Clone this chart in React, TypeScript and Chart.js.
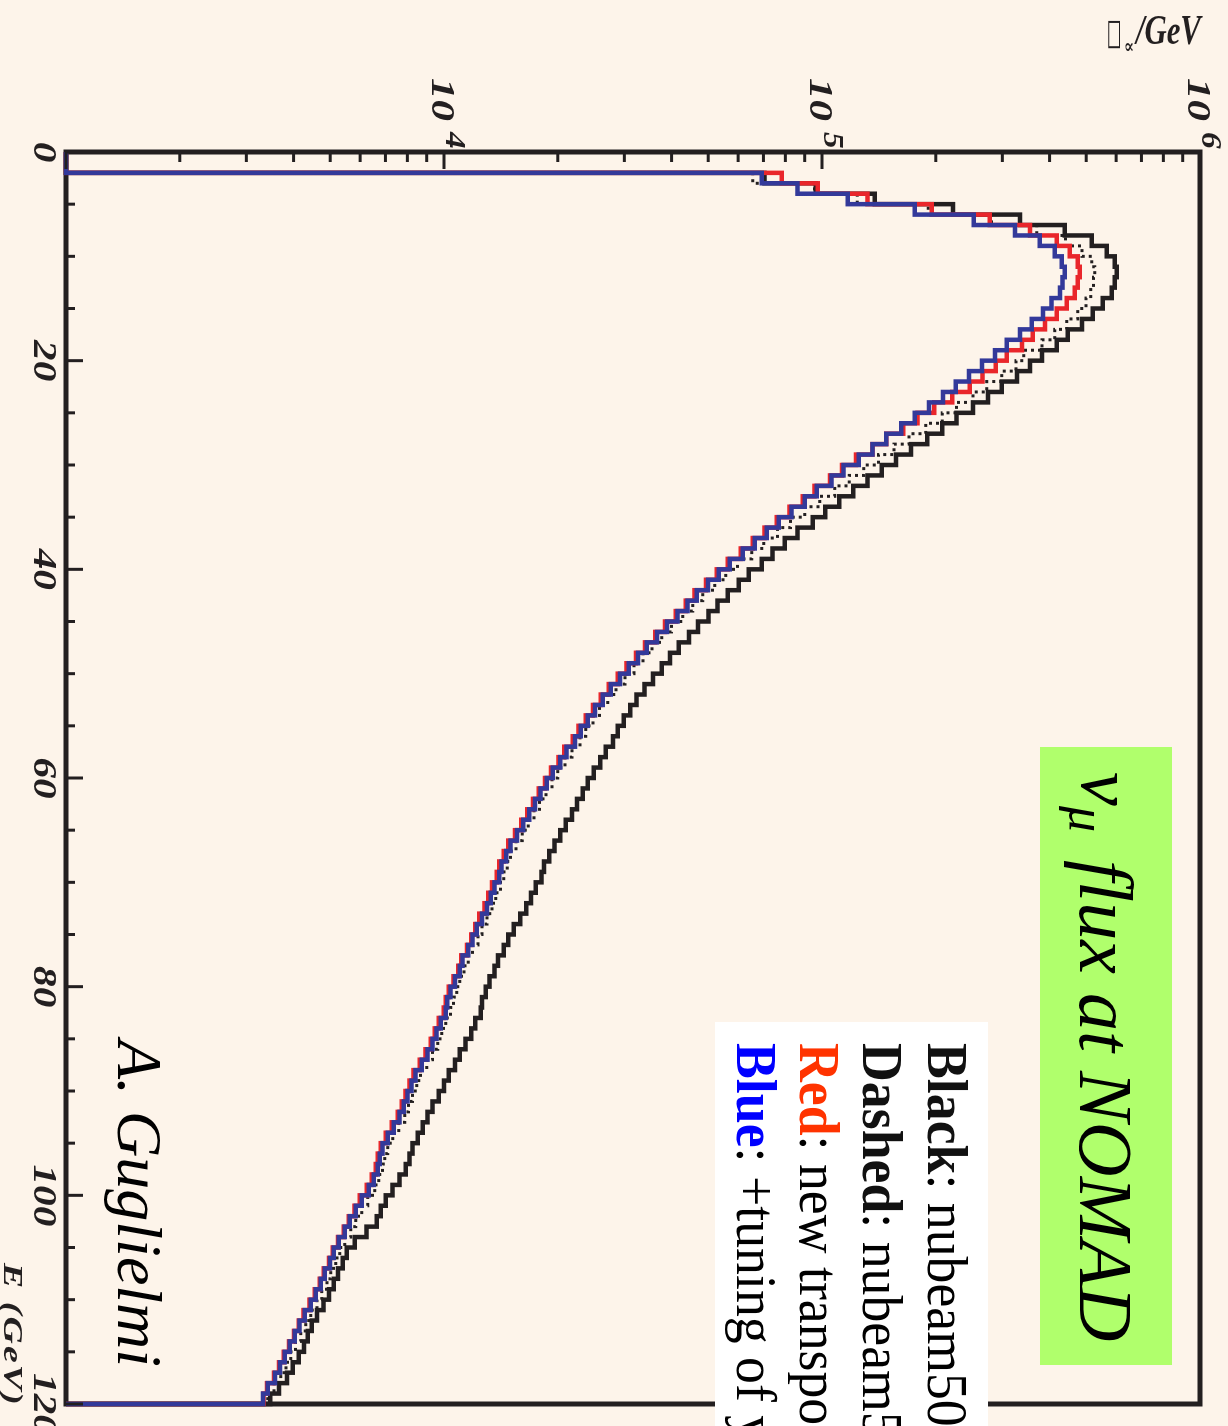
import React, { useEffect, useRef } from "react";
import { Chart, registerables } from "chart.js";
Chart.register(...registerables);

// ---- data (bins of 1 GeV, lower edges 0..119) ----
const BIN_LOW_EDGES_GEV = Array.from({ length: 120 }, (_, i) => i);
const E_MAX = 120;
const Y_MIN = 1000;
const Y_MAX = 1000000;

const blueFlux = [
  0, 0, 69300, 86200, 117000, 176000, 252000, 324000, 377000, 413000,
  431000, 439000, 433000, 426000, 405000, 384000, 359000, 334000, 308000, 287000,
  265000, 245000, 226000, 209000, 192000, 176000, 162000, 148000, 136000, 125000,
  114000, 106000, 96800, 90000, 83100, 76800, 71400, 66400, 61700, 57000,
  53300, 49900, 46600, 44100, 41500, 38900, 36600, 34400, 32600, 30800,
  29200, 27600, 26300, 25100, 24000, 23000, 22200, 21100, 20300, 19400,
  18700, 18000, 17400, 16800, 16200, 15600, 15000, 14600, 14200, 14000,
  13600, 13300, 13000, 12600, 12200, 11900, 11600, 11200, 11000, 10700,
  10400, 10200, 10100, 9800, 9560, 9330, 9050, 8730, 8410, 8210,
  8010, 7820, 7630, 7360, 7100, 6880, 6760, 6680, 6520, 6320,
  6060, 5840, 5630, 5460, 5270, 5110, 4990, 4840, 4720, 4580,
  4440, 4280, 4150, 4030, 3910, 3790, 3680, 3570, 3420, 3320,
];

const redFlux = [
  0, 0, 78200, 97400, 132000, 195000, 278000, 355000, 418000, 452000,
  475000, 481000, 475000, 466000, 444000, 418000, 389000, 361000, 338000, 308000,
  288000, 266000, 246000, 221000, 198000, 179000, 164000, 148000, 136000, 123000,
  113000, 105000, 95600, 88900, 82100, 75900, 70500, 65600, 61000, 56300,
  52700, 49300, 46000, 43600, 41000, 38400, 36200, 34000, 32200, 30400,
  28800, 27300, 26000, 24800, 23700, 22700, 21900, 20800, 20100, 19200,
  18500, 17800, 17200, 16600, 16000, 15400, 14800, 14400, 14000, 13800,
  13400, 13100, 12800, 12400, 12100, 11800, 11500, 11100, 10900, 10600,
  10300, 10100, 9980, 9680, 9450, 9220, 8940, 8630, 8310, 8110,
  7910, 7730, 7540, 7270, 7010, 6800, 6680, 6600, 6440, 6250,
  5990, 5800, 5600, 5430, 5240, 5080, 4960, 4810, 4690, 4550,
  4410, 4250, 4130, 4010, 3890, 3770, 3660, 3550, 3400, 3330,
];

const dashedFlux = [
  0, 0, 65600, 95600, 124000, 191000, 281000, 370000, 441000, 487000,
  517000, 527000, 523000, 514000, 499000, 475000, 444000, 413000, 382000, 342000,
  326000, 299000, 273000, 251000, 227000, 208000, 188000, 170000, 155000, 141000,
  129000, 118000, 108000, 98600, 90000, 82600, 76300, 70100, 65200, 59800,
  55600, 52000, 48400, 45500, 42800, 40000, 37700, 35500, 33600, 31800,
  30100, 28500, 27100, 25800, 24800, 23700, 22900, 21800, 20900, 20000,
  19300, 18600, 17900, 17300, 16700, 16100, 15500, 15000, 14700, 14400,
  14100, 13700, 13400, 13000, 12600, 12300, 11900, 11600, 11300, 11000,
  10800, 10600, 10400, 10100, 9860, 9620, 9330, 9000, 8670, 8470,
  8260, 8060, 7870, 7590, 7320, 7100, 6970, 6880, 6720, 6560,
  6280, 6060, 5840, 5670, 5460, 5300, 5170, 5020, 4900, 4750,
  4610, 4440, 4310, 4180, 4050, 3930, 3820, 3700, 3550, 3420,
];

const blackFlux = [
  0, 0, 70500, 96200, 138000, 222000, 334000, 439000, 517000, 567000,
  595000, 602000, 595000, 584000, 553000, 520000, 487000, 447000, 418000, 382000,
  355000, 328000, 299000, 275000, 251000, 227000, 208000, 190000, 172000, 157000,
  144000, 132000, 121000, 111000, 102000, 94500, 86200, 79700, 74000, 69300,
  64000, 60200, 56300, 52900, 50100, 47000, 44500, 41800, 39600, 37700,
  35700, 33900, 32300, 31100, 29900, 28800, 28000, 26800, 25900, 24900,
  24000, 23300, 22500, 21800, 21000, 20300, 19600, 19000, 18400, 18100,
  17500, 17000, 16500, 15900, 15300, 14800, 14400, 13900, 13600, 13200,
  12900, 12600, 12500, 12100, 11800, 11400, 11000, 10700, 10300, 10000,
  9680, 9330, 9050, 8780, 8520, 8260, 8110, 7920, 7630, 7310,
  7010, 6800, 6640, 6240, 5810, 5530, 5400, 5240, 5110, 4960,
  4800, 4610, 4470, 4360, 4260, 4130, 3980, 3840, 3660, 3470,
];

const xMajorTicks = [0, 20, 40, 60, 80, 100, 120];
const xTickLabels = ["0", "20", "40", "60", "80", "100", "120"];
const xMinorStep = 5;
const yDecades = [1000, 10000, 100000, 1000000];
const yLabelDecades = [10000, 100000, 1000000];
const yLabelExponents = ["4", "5", "6"];
const yMinorMantissas = [2, 3, 4, 5, 6, 7, 8, 9];

const legendRows = [
  { key: "Black", color: "#111111", rest: ": nubeam500" },
  { key: "Dashed", color: "#111111", rest: ": nubeam500" },
  { key: "Red", color: "#ff3300", rest: ": new transport" },
  { key: "Blue", color: "#0000ff", rest: ": +tuning of yields" },
];

// ---- styles ----
const BG = "#fdf4ea";
const INK = "#231f20";
const RED = "#e9262b";
const BLUE = "#33399a";
const GREEN = "#b0ff6c";
const SERIF = '"Liberation Serif", "DejaVu Serif", serif';

function toPoints(values: number[]) {
  const pts = values.map((v, i) => ({ x: BIN_LOW_EDGES_GEV[i], y: v > 0 ? v : Y_MIN }));
  pts.push({ x: E_MAX, y: values[values.length - 1] });
  pts.push({ x: E_MAX, y: Y_MIN });
  return pts;
}

function drawText(
  ctx: CanvasRenderingContext2D,
  s: string,
  x: number,
  y: number,
  font: string,
  color: string,
  sx = 1,
  align: "left" | "center" | "right" = "left",
  spacing = 0
) {
  ctx.save();
  ctx.font = font;
  ctx.fillStyle = color;
  ctx.textBaseline = "alphabetic";
  ctx.textAlign = "left";
  (ctx as any).letterSpacing = spacing + "px";
  const w = ctx.measureText(s).width;
  ctx.translate(x, y);
  ctx.scale(sx, 1);
  const dx = align === "center" ? -w / 2 : align === "right" ? -w : 0;
  ctx.fillText(s, dx, 0);
  ctx.restore();
  return w * sx;
}

const decorPlugin = {
  id: "decor",
  beforeDraw(chart: any) {
    const ctx = chart.ctx as CanvasRenderingContext2D;
    ctx.save();
    ctx.fillStyle = BG;
    ctx.fillRect(0, 0, chart.width, chart.height);
    ctx.restore();
  },
  beforeDatasetsDraw(chart: any) {
    const ctx = chart.ctx as CanvasRenderingContext2D;
    const a = chart.chartArea;
    ctx.save();
    ctx.strokeStyle = INK;
    ctx.lineWidth = 5;
    ctx.strokeRect(a.left, a.top, a.right - a.left, a.bottom - a.top);
    ctx.restore();
  },
  afterDraw(chart: any) {
    const ctx = chart.ctx as CanvasRenderingContext2D;
    const a = chart.chartArea;
    const xs = chart.scales.x;
    const ys = chart.scales.y;

    // ticks
    ctx.save();
    ctx.strokeStyle = INK;
    ctx.lineWidth = 3;
    for (let v = 0; v <= E_MAX; v += xMinorStep) {
      const px = xs.getPixelForValue(v);
      const len = xMajorTicks.includes(v) ? 17 : 9;
      ctx.beginPath();
      ctx.moveTo(px, a.bottom);
      ctx.lineTo(px, a.bottom - len);
      ctx.stroke();
    }
    yDecades.forEach((d, k) => {
      const py = ys.getPixelForValue(d);
      ctx.beginPath();
      ctx.moveTo(a.left, py);
      ctx.lineTo(a.left + 17, py);
      ctx.stroke();
      if (k < yDecades.length - 1) {
        yMinorMantissas.forEach((m) => {
          const pm = ys.getPixelForValue(m * d);
          ctx.beginPath();
          ctx.moveTo(a.left, pm);
          ctx.lineTo(a.left + 10, pm);
          ctx.stroke();
        });
      }
    });
    ctx.restore();

    // x tick labels
    const tickFont = `italic bold 33px ${SERIF}`;
    xMajorTicks.forEach((v, i) => {
      drawText(ctx, xTickLabels[i], xs.getPixelForValue(v), a.bottom + 32, tickFont, INK, 1.25, "center");
    });
    // y tick labels 10^n
    yLabelDecades.forEach((d, i) => {
      const py = ys.getPixelForValue(d);
      drawText(ctx, "10", 78, py + 12, tickFont, INK, 1.3, "left");
      drawText(ctx, yLabelExponents[i], 132, py - 2, `italic bold 29px ${SERIF}`, INK, 1.15, "left");
    });

    // y axis title (rotated)
    ctx.save();
    ctx.translate(44, 121);
    ctx.rotate(-Math.PI / 2);
    ctx.fillStyle = INK;
    ctx.textBaseline = "alphabetic";
    ctx.save();
    ctx.font = `36px "DejaVu Sans"`;
    ctx.scale(0.42, 1);
    ctx.fillText("\u25A1", 0, 0);
    ctx.restore();
    ctx.save();
    ctx.font = `italic bold 20px "DejaVu Serif"`;
    ctx.translate(17, 9);
    ctx.scale(0.75, 1);
    ctx.fillText("\u221D", 0, 0);
    ctx.restore();
    ctx.save();
    ctx.font = `italic bold 42px ${SERIF}`;
    ctx.translate(29, 0);
    ctx.scale(0.73, 1);
    ctx.fillText("/GeV", 0, 0);
    ctx.restore();
    ctx.restore();

    // x axis title
    drawText(ctx, "E (GeV)", 1263, 1224, `italic bold 27px ${SERIF}`, INK, 1.4, "left", 1.5);

    // green title box
    ctx.save();
    ctx.fillStyle = GREEN;
    ctx.fillRect(747, 56, 618, 132);
    ctx.restore();
    drawText(ctx, "\u03BD", 772, 146, `italic 76px ${SERIF}`, "#000", 1);
    drawText(ctx, "\u03BC", 806, 158, `italic 52px ${SERIF}`, "#000", 1);
    drawText(ctx, "flux at NOMAD", 860, 148, `italic 76px ${SERIF}`, "#000", 1);

    // legend box
    ctx.save();
    ctx.fillStyle = "#ffffff";
    ctx.fillRect(1022, 240, 420, 273);
    ctx.restore();
    const baselines = [300, 365, 428, 491];
    legendRows.forEach((r, i) => {
      const w = drawText(ctx, r.key, 1043, baselines[i], `bold 56px ${SERIF}`, r.color, 0.96);
      drawText(ctx, r.rest, 1043 + w, baselines[i], `56px ${SERIF}`, "#000", 0.96);
    });

    // author
    drawText(ctx, "A. Guglielmi", 1040, 1110, `italic 64px ${SERIF}`, "#000", 1);
  },
};

export default function App() {
  const ref = useRef<HTMLCanvasElement | null>(null);
  useEffect(() => {
    if (!ref.current) return;
    const common = { stepped: "before" as const, pointRadius: 0, tension: 0, fill: false, clip: 8 };
    const chart = new Chart(ref.current, {
      type: "line",
      data: {
        datasets: [
          { label: "Blue", data: toPoints(blueFlux), borderColor: BLUE, borderWidth: 4.5, ...common },
          { label: "Red", data: toPoints(redFlux), borderColor: RED, borderWidth: 4.5, ...common },
          { label: "Dashed", data: toPoints(dashedFlux), borderColor: INK, borderWidth: 3, borderDash: [3, 4], ...common },
          { label: "Black", data: toPoints(blackFlux), borderColor: INK, borderWidth: 4.5, ...common },
        ] as any,
      },
      options: {
        animation: false,
        responsive: false,
        devicePixelRatio: 1,
        parsing: true,
        layout: { padding: { left: 152, right: 22, top: 28, bottom: 66 } },
        plugins: { legend: { display: false }, tooltip: { enabled: false }, title: { display: false } },
        scales: {
          x: { type: "linear", min: 0, max: E_MAX, display: false },
          y: { type: "logarithmic", min: Y_MIN, max: Y_MAX, display: false },
        },
      } as any,
      plugins: [decorPlugin],
    });
    return () => chart.destroy();
  }, []);

  return (
    <div style={{ position: "fixed", left: 0, top: 0, width: 1228, height: 1426, overflow: "hidden", background: BG }}>
      <div
        style={{
          position: "absolute",
          left: 0,
          top: 0,
          width: 1426,
          height: 1228,
          transformOrigin: "0 0",
          transform: "translate(1228px, 0px) rotate(90deg)",
        }}
      >
        <canvas ref={ref} width={1426} height={1228} style={{ display: "block", width: 1426, height: 1228 }} />
      </div>
    </div>
  );
}
